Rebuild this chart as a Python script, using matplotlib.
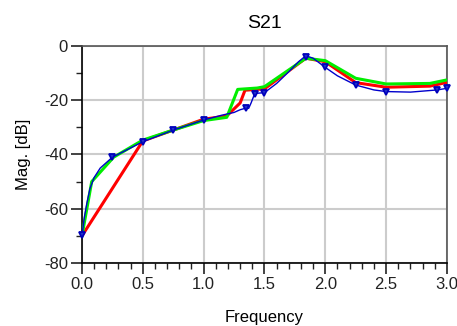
import matplotlib
matplotlib.use("Agg")
import matplotlib.pyplot as plt
from matplotlib.ticker import MultipleLocator

plt.rcParams["font.family"] = ["Liberation Sans", "DejaVu Sans"]

# Blue (simulated, thin line with markers)
blue_f = [0.0, 0.02, 0.04, 0.066, 0.1, 0.15, 0.25, 0.5, 0.75, 1.0, 1.15, 1.25, 1.3, 1.34, 1.37, 1.39, 1.42, 1.5,
          1.6, 1.7, 1.78, 1.84, 1.9, 2.0, 2.1, 2.25, 2.4, 2.5, 2.7, 2.92, 3.0]
blue_db = [-70, -63, -58, -52.5, -48.5, -45, -41, -35.3, -31, -27.3, -25.5, -24.5, -23.5, -23, -23, -21, -17.5, -17.2,
           -13.8, -9.5, -5.8, -3.6, -4.5, -7.9, -11, -14.4, -16.2, -16.8, -17, -16.2, -15.6]
marker_f = [0.0, 0.25, 0.5, 0.75, 1.0, 1.35, 1.42, 1.5, 1.84, 2.0, 2.25, 2.5, 2.92, 3.0]
marker_db = [-69.7, -41, -35.3, -31, -27.3, -23, -17.7, -17.2, -3.9, -7.9, -14.4, -16.8, -16.2, -15.6]

# Red
red_f = [0.0, 0.5, 0.75, 1.0, 1.19, 1.3, 1.34, 1.5, 1.84, 2.0, 2.25, 2.5, 2.86, 3.0]
red_db = [-70, -35, -31, -27, -25.8, -21, -16.3, -15.8, -4.5, -5.8, -13.5, -15.2, -14.8, -13.4]

# Green
green_f = [0.0, 0.08, 0.26, 0.5, 0.75, 1.0, 1.19, 1.28, 1.44, 1.5, 1.84, 2.0, 2.25, 2.5, 2.86, 3.0]
green_db = [-70, -50, -41, -34.7, -31, -27.5, -26.3, -16, -15.5, -15, -4.5, -5.4, -11.9, -14, -13.8, -12.5]

fig = plt.figure(figsize=(4.57, 3.26), dpi=100)
ax = fig.add_axes([0.1794, 0.1933, 0.7986, 0.6656])

ax.plot(red_f, red_db, color="#ff0000", lw=2.2, zorder=3)
ax.plot(green_f, green_db, color="#00ee00", lw=2.2, zorder=4)
ax.plot(blue_f, blue_db, color="#0000cc", lw=1.0, zorder=5)
ax.plot(marker_f, marker_db, linestyle="none", marker="v", color="#0000bb",
        markersize=5, markerfacecolor="#2233cc", markeredgewidth=1.3, zorder=6, clip_on=False)

ax.set_xlim(0, 3.0)
ax.set_ylim(-80, 0)
ax.xaxis.set_major_locator(MultipleLocator(0.5))
ax.xaxis.set_minor_locator(MultipleLocator(0.1))
ax.yaxis.set_major_locator(MultipleLocator(20))
ax.yaxis.set_minor_locator(MultipleLocator(10))
ax.xaxis.set_major_formatter(plt.FuncFormatter(lambda v, p: f"{v:.1f}"))
ax.yaxis.set_major_formatter(plt.FuncFormatter(lambda v, p: f"{v:.0f}"))

ax.grid(True, which="major", color="#cccccc", lw=1.5)
ax.set_axisbelow(True)
ax.tick_params(which="major", length=8, width=1.2, labelsize=12, colors="#222222", pad=2)
ax.tick_params(which="minor", length=4.5, width=1.0, colors="#222222")

for s in ["left", "bottom"]:
    ax.spines[s].set_color("black")
    ax.spines[s].set_linewidth(1.2)
for s in ["top", "right"]:
    ax.spines[s].set_color("#555555")
    ax.spines[s].set_linewidth(1.2)

ax.set_title("S21", fontsize=14, pad=13)
ax.set_xlabel("Frequency", fontsize=12, labelpad=13)
ax.set_ylabel("Mag. [dB]", fontsize=12, labelpad=9)

fig.savefig("out.png", dpi=100)
